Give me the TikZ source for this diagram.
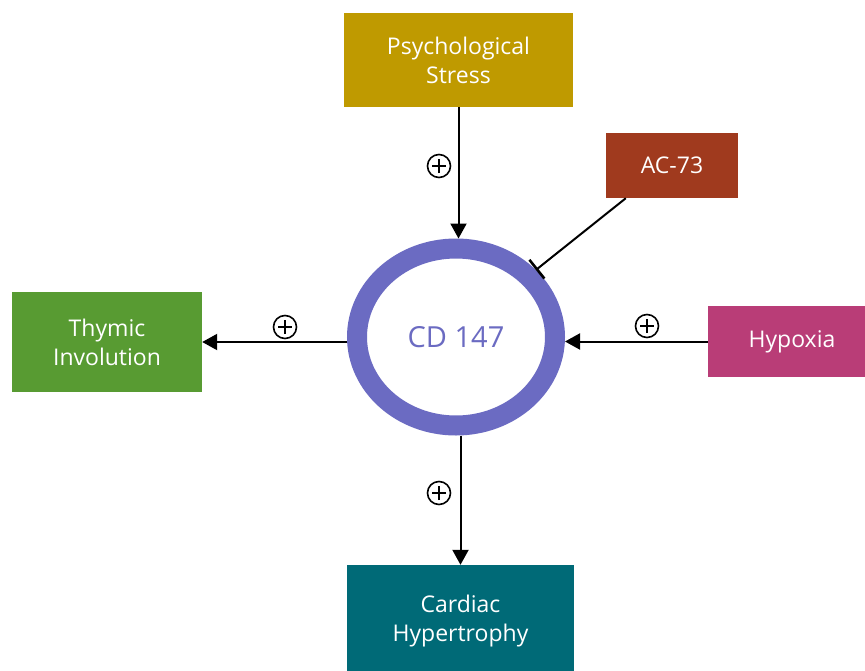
\documentclass[tikz,border=0pt]{standalone}
\usepackage{fontspec}
\setmainfont{Open Sans}
\usetikzlibrary{arrows.meta,shapes.geometric}
\definecolor{cgold}{HTML}{BF9A00}
\definecolor{crust}{HTML}{A03A1E}
\definecolor{cgreen}{HTML}{589B32}
\definecolor{cmag}{HTML}{B93D77}
\definecolor{cteal}{HTML}{006A77}
\definecolor{cring}{HTML}{6B6BC2}
\begin{document}
\begin{tikzpicture}[x=1pt,y=-1pt,
  box/.style={rectangle, inner sep=0pt, text=white, align=center,
    font=\fontsize{23}{29}\selectfont},
  arr/.style={line width=2pt, -{Triangle[length=15pt,width=16pt]}},
  inh/.style={line width=2pt, -{Bar[width=24pt,line width=2.6pt]}},
  plusmark/.style={circle, draw, line width=1.6pt, minimum size=23pt, inner sep=0pt,
    path picture={\draw[line width=2.2pt]
      ([xshift=-7pt]path picture bounding box.center) -- ([xshift=7pt]path picture bounding box.center)
      ([yshift=-7pt]path picture bounding box.center) -- ([yshift=7pt]path picture bounding box.center);}}
]
\fill[white] (0,0) rectangle (865,670);
\useasboundingbox (0,0) rectangle (865,670);

\node[box, fill=cgold, minimum width=229pt, minimum height=94pt] (ps) at (458.5,60) {Psychological\\Stress};
\node[box, fill=crust, minimum width=132pt, minimum height=65pt] (ac) at (672,165.5) {AC-73};
\node[box, fill=cgreen, minimum width=190pt, minimum height=100pt] (th) at (107,342) {Thymic\\Involution};
\node[box, fill=cmag, minimum width=168pt, minimum height=71pt] (hy) at (792,341.5) {Hypoxia};
\node[box, fill=cteal, minimum width=227pt, minimum height=112pt] (ch) at (460.5,621) {Cardiac\\Hypertrophy};

\node[ellipse, draw=cring, line width=20pt, minimum width=198pt, minimum height=177pt,
  text=cring, font=\fontsize{29}{32}\selectfont] (cd) at (456,337) {CD 147};

\draw[arr] (ps.south) -- (ps.south |- cd.north);
\draw[arr] (cd.west |- th.east) -- (th.east);
\draw[arr] (hy.west) -- (hy.west -| cd.east);
\draw[arr] (cd.south -| ch.north) -- (ch.north);
\draw[inh] ([xshift=20pt]ac.south west) -- (cd.40);

\node[plusmark] (p1) at (439,166) {};
\node[plusmark] (p2) at (285,327) {};
\node[plusmark] (p3) at (647,326) {};
\node[plusmark] (p4) at (439,493) {};
\end{tikzpicture}
\end{document}
